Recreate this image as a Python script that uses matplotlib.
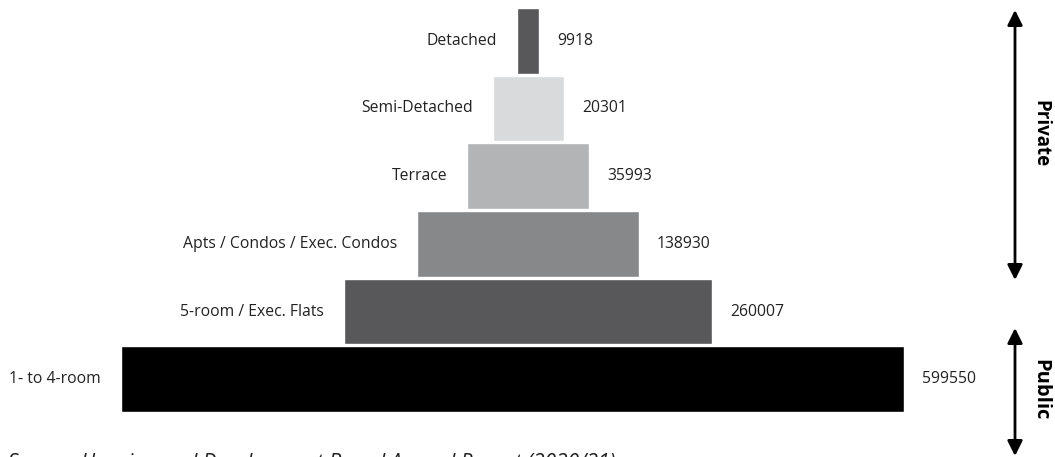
import matplotlib.pyplot as plt

# data, top of the pyramid first
categories = ["Detached", "Semi-Detached", "Terrace", "Apts / Condos / Exec. Condos",
              "5-room / Exec. Flats", "1- to 4-room"]
values = [9918, 20301, 35993, 138930, 260007, 599550]

# layout of the stylised pyramid (pixel-like units across the figure)
bar_left = [517, 493, 467, 417, 344, 121]
bar_width = [22, 71, 122, 222, 368, 783]
colors = ["#58585a", "#d9dadb", "#b3b4b5", "#878889", "#58585a", "#000000"]

plt.rcParams["font.family"] = ["Open Sans", "DejaVu Sans"]

W, H = 1055, 457
fig = plt.figure(figsize=(W / 100, H / 100), dpi=100)

# background axes in pixel coordinates for arrows / source note
bg = fig.add_axes([0, 0, 1, 1])
bg.set_xlim(0, W)
bg.set_ylim(H, 0)
bg.axis("off")

# bars axes
ax = fig.add_axes([0, (H - 413) / H, 1, 406 / H])
ax.set_xlim(0, W)
ax.set_ylim(len(categories) - 0.5, -0.5)
ax.axis("off")

ys = list(range(len(categories)))
ax.barh(ys, bar_width, left=bar_left, height=0.97, color=colors,
        edgecolor="white", linewidth=1.0)

for y, cat, v, l, w in zip(ys, categories, values, bar_left, bar_width):
    ax.annotate(cat, xy=(l, y), xytext=(-20 * 0.72, 0), textcoords="offset points",
                ha="right", va="center", fontsize=11.3, color="#222222")
    ax.annotate(str(v), xy=(l + w, y), xytext=(18 * 0.72, 0), textcoords="offset points",
                ha="left", va="center", fontsize=11.3, color="#222222")

# Private / Public arrows
arrow_kw = dict(arrowstyle="<|-|>,head_length=0.9,head_width=0.45", color="black", lw=2,
                shrinkA=0, shrinkB=0)
bg.annotate("", xy=(1015, 10), xytext=(1015, 280), arrowprops=arrow_kw)
bg.annotate("", xy=(1015, 328), xytext=(1015, 456), arrowprops=arrow_kw)
bg.text(1040, 134, "Private", rotation=-90, ha="center", va="center",
        fontsize=13.5, fontweight="bold")
bg.text(1040, 390, "Public", rotation=-90, ha="center", va="center",
        fontsize=14.5, fontweight="bold")

bg.text(8, 453, "Source: Housing and Development Board Annual Report (2020/21)",
        ha="left", va="top", fontsize=15, style="italic", color="#222222")

fig.savefig("out.png", dpi=100)
